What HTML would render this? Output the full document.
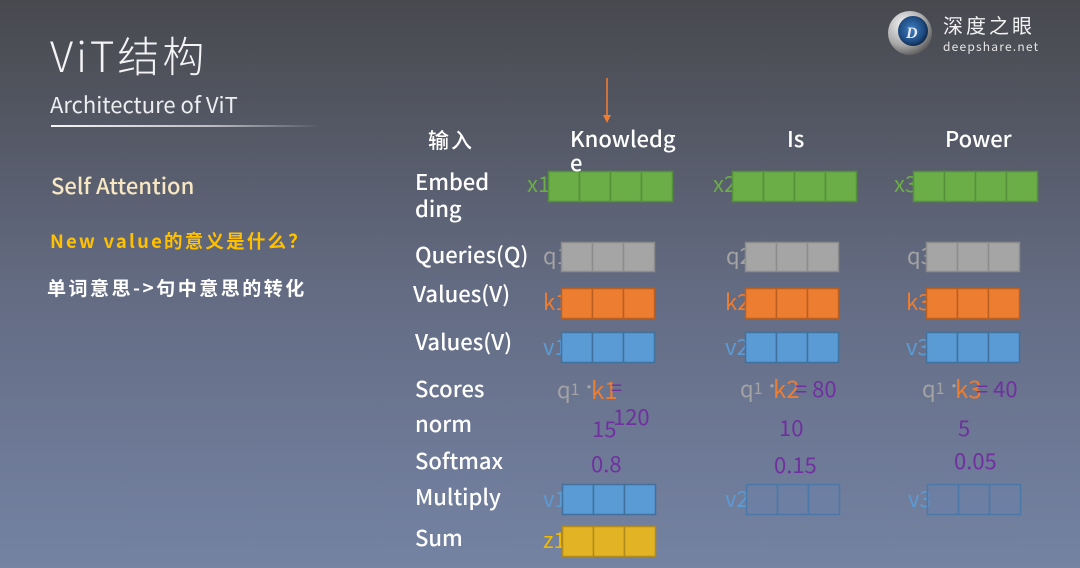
<!DOCTYPE html>
<html><head><meta charset="utf-8"><style>
html,body{margin:0;padding:0;width:1080px;height:568px;overflow:hidden;}
svg{display:block}
text{font-family:"Noto Sans CJK SC","Liberation Sans",sans-serif;}
</style></head><body>
<svg width="1080" height="568" viewBox="0 0 1080 568" xmlns="http://www.w3.org/2000/svg">
<defs>
<linearGradient id="bg" x1="0" y1="0" x2="0" y2="1">
<stop offset="0" stop-color="#48494f"/>
<stop offset="0.15" stop-color="#50535d"/>
<stop offset="0.5" stop-color="#636b82"/>
<stop offset="0.75" stop-color="#6c7793"/>
<stop offset="1" stop-color="#7483a3"/>
</linearGradient>
<linearGradient id="ln" x1="0" y1="0" x2="1" y2="0">
<stop offset="0" stop-color="#ffffff" stop-opacity="0.95"/>
<stop offset="0.6" stop-color="#ffffff" stop-opacity="0.6"/>
<stop offset="1" stop-color="#ffffff" stop-opacity="0"/>
</linearGradient>
<radialGradient id="ring" cx="0.35" cy="0.3" r="0.8">
<stop offset="0" stop-color="#f4f4f4"/>
<stop offset="0.6" stop-color="#a8a8a8"/>
<stop offset="1" stop-color="#4a4a4a"/>
</radialGradient>
<radialGradient id="eye" cx="0.45" cy="0.45" r="0.6">
<stop offset="0" stop-color="#3f7fc0"/>
<stop offset="0.7" stop-color="#1d4a80"/>
<stop offset="1" stop-color="#0c1e3a"/>
</radialGradient>
</defs>
<rect width="1080" height="568" fill="url(#bg)"/>

<!-- logo -->
<circle cx="910" cy="33" r="22" fill="url(#ring)"/>
<circle cx="913" cy="31" r="15" fill="url(#eye)"/>
<text x="906" y="38" font-size="16" font-weight="bold" fill="#e8e8f0" font-style="italic" style="font-family:'Liberation Serif',serif">D</text>
<text x="943" y="33" font-size="20" fill="#f2f2f2" letter-spacing="3">深度之眼</text>
<text x="943" y="51" font-size="12" fill="#e6e6e6" letter-spacing="1.2">deepshare.net</text>

<!-- left -->
<text x="50" y="72" font-size="42" font-weight="300" fill="#f4f4f6" letter-spacing="3">ViT结构</text>
<text x="50" y="113" font-size="22" fill="#eceef2">Architecture of ViT</text>
<rect x="51" y="125" width="270" height="2" fill="url(#ln)"/>
<text x="51" y="194" font-size="22" font-weight="500" fill="#f7e7c3">Self Attention</text>
<text x="50" y="248" font-size="18.5" font-weight="bold" fill="#ffc000" letter-spacing="2.2">New value的意义是什么？</text>
<text x="47" y="295" font-size="19" font-weight="bold" fill="#ffffff" letter-spacing="2.5">单词意思-&gt;句中意思的转化</text>

<!-- arrow -->
<line x1="607" y1="78" x2="607" y2="116" stroke="#ed7d31" stroke-width="1.6"/>
<polygon points="603,115 611,115 607,123" fill="#ed7d31"/>

<!-- headers -->
<g fill="#ffffff" font-size="22" font-weight="500">
<text x="428" y="148" font-size="21" letter-spacing="2">输入</text>
<text x="570" y="147">Knowledg</text>
<text x="787" y="147">Is</text>
<text x="945" y="147">Power</text>
<text x="415" y="190">Embed</text>
<text x="415" y="217">ding</text>
<text x="415" y="263">Queries(Q)</text>
<text x="413" y="302">Values(V)</text>
<text x="415" y="350">Values(V)</text>
<text x="415" y="397">Scores</text>
<text x="415" y="432">norm</text>
<text x="415" y="469">Softmax</text>
<text x="415" y="505">Multiply</text>
<text x="415" y="546">Sum</text>
</g>

<!-- box labels -->
<g font-size="22">
<text x="527" y="192" fill="#6bad47">x1</text>
<text x="713" y="192" fill="#6bad47">x2</text>
<text x="894" y="192" fill="#6bad47">x3</text>
<text x="543" y="264" fill="#a3a3a3">q1</text>
<text x="726" y="264" fill="#a3a3a3">q2</text>
<text x="907" y="264" fill="#a3a3a3">q3</text>
<text x="543" y="310" fill="#ed7d31">k1</text>
<text x="725" y="310" fill="#ed7d31">k2</text>
<text x="906" y="310" fill="#ed7d31">k3</text>
<text x="543" y="355" fill="#5b9bd5">v1</text>
<text x="725" y="355" fill="#5b9bd5">v2</text>
<text x="906" y="355" fill="#5b9bd5">v3</text>
<text x="543" y="507" fill="#5b9bd5">v1</text>
<text x="725" y="507" fill="#5b9bd5">v2</text>
<text x="908" y="507" fill="#5b9bd5">v3</text>
<text x="543" y="548" fill="#f0b800">z1</text>
</g>

<!-- boxes -->
<g stroke-width="1.5">
<g fill="#6bad47" stroke="#55913a">
<rect x="548.5" y="171.5" width="31" height="30"/><rect x="579.5" y="171.5" width="31" height="30"/><rect x="610.5" y="171.5" width="31" height="30"/><rect x="641.5" y="171.5" width="31" height="30"/>
<rect x="732.5" y="171.5" width="31" height="30"/><rect x="763.5" y="171.5" width="31" height="30"/><rect x="794.5" y="171.5" width="31" height="30"/><rect x="825.5" y="171.5" width="31" height="30"/>
<rect x="913.5" y="171.5" width="31" height="30"/><rect x="944.5" y="171.5" width="31" height="30"/><rect x="975.5" y="171.5" width="31" height="30"/><rect x="1006.5" y="171.5" width="31" height="30"/>
</g>
<g fill="#a5a5a5" stroke="#8c8c8c">
<rect x="561.5" y="242.5" width="31" height="29"/><rect x="592.5" y="242.5" width="31" height="29"/><rect x="623.5" y="242.5" width="31" height="29"/>
<rect x="745.5" y="242.5" width="31" height="29"/><rect x="776.5" y="242.5" width="31" height="29"/><rect x="807.5" y="242.5" width="31" height="29"/>
<rect x="926.5" y="242.5" width="31" height="29"/><rect x="957.5" y="242.5" width="31" height="29"/><rect x="988.5" y="242.5" width="31" height="29"/>
</g>
<g fill="#ed7d31" stroke="#b95f22">
<rect x="561.5" y="288.5" width="31" height="30"/><rect x="592.5" y="288.5" width="31" height="30"/><rect x="623.5" y="288.5" width="31" height="30"/>
<rect x="745.5" y="288.5" width="31" height="30"/><rect x="776.5" y="288.5" width="31" height="30"/><rect x="807.5" y="288.5" width="31" height="30"/>
<rect x="926.5" y="288.5" width="31" height="30"/><rect x="957.5" y="288.5" width="31" height="30"/><rect x="988.5" y="288.5" width="31" height="30"/>
</g>
<g fill="#5b9bd5" stroke="#41719c">
<rect x="561.5" y="332.5" width="31" height="30"/><rect x="592.5" y="332.5" width="31" height="30"/><rect x="623.5" y="332.5" width="31" height="30"/>
<rect x="745.5" y="332.5" width="31" height="30"/><rect x="776.5" y="332.5" width="31" height="30"/><rect x="807.5" y="332.5" width="31" height="30"/>
<rect x="926.5" y="332.5" width="31" height="30"/><rect x="957.5" y="332.5" width="31" height="30"/><rect x="988.5" y="332.5" width="31" height="30"/>
<rect x="562.5" y="484.5" width="31" height="30"/><rect x="593.5" y="484.5" width="31" height="30"/><rect x="624.5" y="484.5" width="31" height="30"/>
</g>
<g fill="#6a80a8" fill-opacity="0.6" stroke="#4a78a8">
<rect x="746.5" y="484.5" width="31" height="30"/><rect x="777.5" y="484.5" width="31" height="30"/><rect x="808.5" y="484.5" width="31" height="30"/>
<rect x="927.5" y="484.5" width="31" height="30"/><rect x="958.5" y="484.5" width="31" height="30"/><rect x="989.5" y="484.5" width="31" height="30"/>
</g>
<g fill="#e2b324" stroke="#b08a1c">
<rect x="562.5" y="526.5" width="31" height="30"/><rect x="593.5" y="526.5" width="31" height="30"/><rect x="624.5" y="526.5" width="31" height="30"/>
</g>
</g>

<text x="570" y="171" font-size="22" font-weight="500" fill="#ffffff">e</text>

<!-- scores -->
<g font-size="22">
<text x="557" y="398" fill="#a3a3a3">q<tspan font-size="16" dy="-3">1</tspan></text>
<text x="581" y="393" fill="#a3a3a3" font-size="16">·</text>
<text x="591" y="399" fill="#ed7d31" font-size="24">k1</text>
<text x="611" y="395" fill="#7030a0" font-size="20">=</text>
<text x="613" y="425" fill="#7030a0">120</text>
<text x="592" y="437" fill="#7030a0">15</text>
<text x="591" y="472" fill="#7030a0">0.8</text>

<text x="740" y="397" fill="#a3a3a3">q<tspan font-size="16" dy="-3">1</tspan></text>
<text x="764" y="392" fill="#a3a3a3" font-size="16">·</text>
<text x="773" y="398" fill="#ed7d31" font-size="24">k2</text>
<text x="795" y="397" fill="#7030a0">= 80</text>
<text x="779" y="436" fill="#7030a0">10</text>
<text x="774" y="473" fill="#7030a0">0.15</text>

<text x="922" y="397" fill="#a3a3a3">q<tspan font-size="16" dy="-3">1</tspan></text>
<text x="946" y="392" fill="#a3a3a3" font-size="16">·</text>
<text x="955" y="398" fill="#ed7d31" font-size="24">k3</text>
<text x="976" y="397" fill="#7030a0">= 40</text>
<text x="958" y="436" fill="#7030a0">5</text>
<text x="954" y="469" fill="#7030a0">0.05</text>
</g>
</svg>
</body></html>
